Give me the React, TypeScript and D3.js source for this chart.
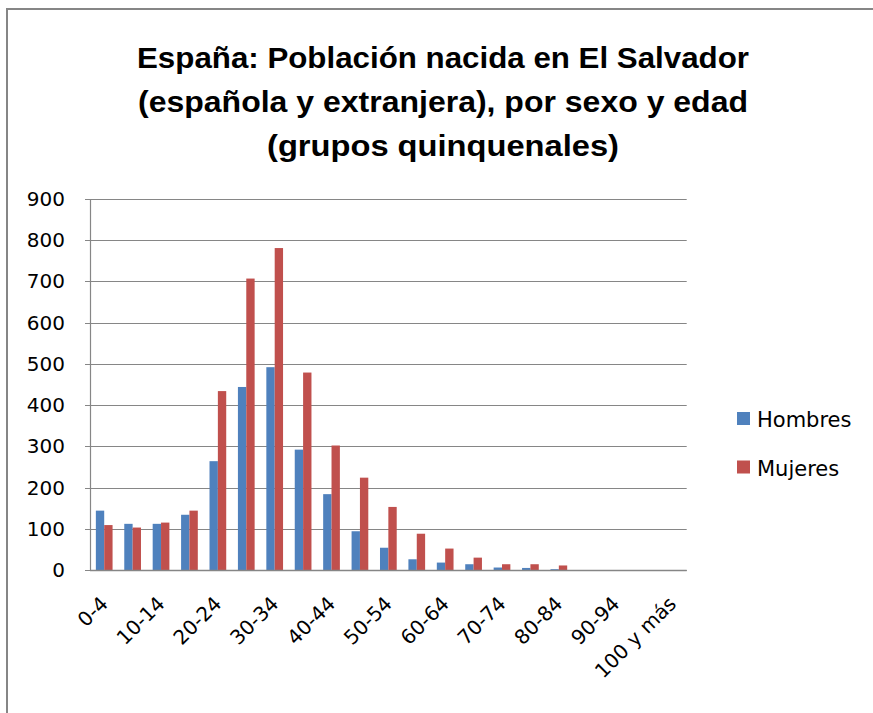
import React from "react";
import * as d3 from "d3";

const categories = [
  "0-4", "5-9", "10-14", "15-19", "20-24", "25-29", "30-34", "35-39", "40-44", "45-49",
  "50-54", "55-59", "60-64", "65-69", "70-74", "75-79", "80-84", "85-89", "90-94", "95-99", "100 y más",
];
const hombres = [144, 112, 112, 134, 264, 444, 492, 292, 184, 94, 54, 26, 18, 14, 6, 5, 2, 0, 0, 0, 0];
const mujeres = [109, 103, 115, 144, 434, 707, 781, 479, 302, 224, 153, 88, 52, 30, 14, 14, 11, 0, 0, 0, 0];
const seriesNames = ["Hombres", "Mujeres"];
const seriesColors = ["#4F81BD", "#C0504D"];
const yTicks = [0, 100, 200, 300, 400, 500, 600, 700, 800, 900];
const titleLines = [
  "España: Población nacida en El Salvador",
  "(española y extranjera), por sexo y edad",
  "(grupos quinquenales)",
];

const W = 873;
const H = 713;
const plot = { left: 90, right: 686.7, top: 199, bottom: 570 };
const gridColor = "#868686";
const font = "'DejaVu Sans', sans-serif";

export default function App() {
  const x = d3.scaleBand<string>().domain(categories).range([plot.left, plot.right]).paddingInner(0).paddingOuter(0);
  const inner = d3.scaleBand<string>().domain(seriesNames).range([0, x.bandwidth()]).paddingInner(0).paddingOuter(0.7);
  const y = d3.scaleLinear().domain([0, 900]).range([plot.bottom, plot.top]);
  const series = [hombres, mujeres];
  const titleWidths = [612, 610, 352];

  return (
    <svg width={W} height={H} style={{ position: "absolute", left: 0, top: 0, background: "#fff" }}>
      <rect x={0} y={0} width={W} height={H} fill="#fff" />
      {/* outer frame */}
      <line x1={6} x2={W} y1={9} y2={9} stroke={gridColor} strokeWidth={2} />
      <line x1={7} x2={7} y1={8} y2={H} stroke={gridColor} strokeWidth={2} />

      {/* title */}
      {titleLines.map((t, i) => (
        <text
          key={i}
          x={443}
          y={68 + i * 44}
          textAnchor="middle"
          fontFamily="'Liberation Sans', Arial, sans-serif"
          fontWeight="bold"
          fontSize={30}
          fill="#000"
          textLength={titleWidths[i]}
          lengthAdjust="spacingAndGlyphs"
        >
          {t}
        </text>
      ))}

      {/* gridlines and y ticks */}
      {yTicks.map((v) => (
        <g key={v}>
          <line x1={plot.left - 5} x2={plot.right} y1={Math.round(y(v)) + 0.5} y2={Math.round(y(v)) + 0.5} stroke={gridColor} strokeWidth={1.2} />
          <text x={65} y={y(v) + 7} textAnchor="end" fontFamily={font} fontSize={20} fill="#000">
            {v}
          </text>
        </g>
      ))}

      {/* bars */}
      {series.map((vals, si) =>
        vals.map((v, ci) => (
          <rect
            key={`${si}-${ci}`}
            x={(x(categories[ci]) as number) + (inner(seriesNames[si]) as number)}
            y={y(v)}
            width={inner.bandwidth()}
            height={plot.bottom - y(v)}
            fill={seriesColors[si]}
          />
        ))
      )}

      {/* axes */}
      <line x1={plot.left + 0.5} x2={plot.left + 0.5} y1={plot.top} y2={plot.bottom} stroke={gridColor} strokeWidth={1.2} />
      <line x1={plot.left} x2={plot.right} y1={plot.bottom + 0.5} y2={plot.bottom + 0.5} stroke={gridColor} strokeWidth={1.5} />

      {/* x labels */}
      {categories.map((c, i) => {
        if (i % 2 !== 0) return null;
        const cx = (x(c) as number) + x.bandwidth() / 2 + 5;
        const cy = 605;
        return (
          <text
            key={c}
            x={cx}
            y={cy}
            textAnchor="end"
            fontFamily={font}
            fontSize={20}
            fill="#000"
            transform={`rotate(-45 ${cx} ${cy})`}
          >
            {c}
          </text>
        );
      })}

      {/* legend */}
      {seriesNames.map((n, i) => (
        <g key={n}>
          <rect x={737} y={412 + i * 48.5} width={13} height={13} fill={seriesColors[i]} />
          <text x={757} y={427 + i * 48.5} fontFamily={font} fontSize={21} fill="#000">
            {n}
          </text>
        </g>
      ))}
    </svg>
  );
}
